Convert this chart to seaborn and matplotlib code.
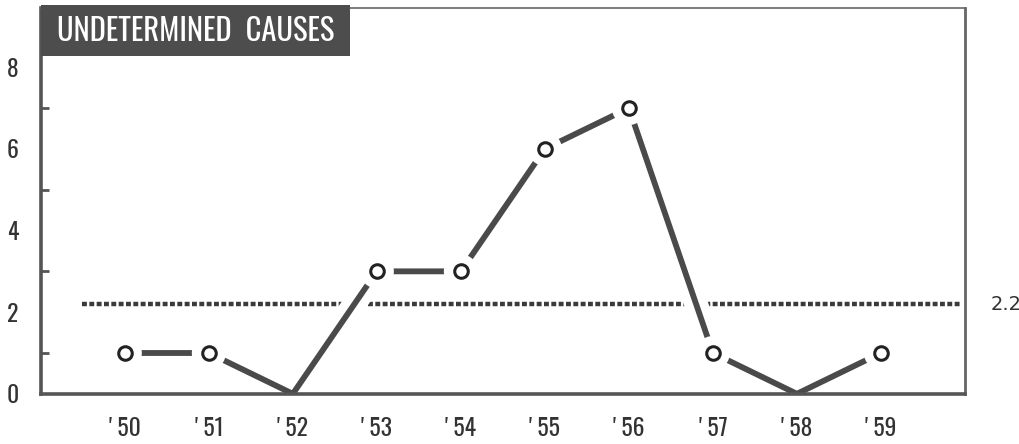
import matplotlib
matplotlib.use("Agg")
import matplotlib.pyplot as plt
import matplotlib.patheffects as pe
from matplotlib.patches import Rectangle
import seaborn as sns
import pandas as pd
import logging
logging.getLogger("matplotlib.font_manager").setLevel(logging.ERROR)

years = [1950, 1951, 1952, 1953, 1954, 1955, 1956, 1957, 1958, 1959]
year_labels = ["' 50", "' 51", "' 52", "' 53", "' 54", "' 55", "' 56", "' 57", "' 58", "' 59"]
counts = [1, 1, 0, 3, 3, 6, 7, 1, 0, 1]
mean_value = 2.2
mean_label = "2.2"
title = "UNDETERMINED  CAUSES"
y_ticks = [0, 2, 4, 6, 8]

sns.set_style("white")
narrow = ["Oswald", "Roboto Condensed", "Archivo Narrow", "PT Sans Narrow",
          "Liberation Sans Narrow", "DejaVu Sans"]
plt.rcParams["font.family"] = narrow

df = pd.DataFrame({"year": years, "count": counts})

fig = plt.figure(figsize=(10.2, 4.44), dpi=100)
ax = fig.add_axes([0.040, 0.113, 0.906, 0.869])

line_col = "#4a4a4a"

# mean dotted line
ax.axhline(mean_value, xmin=0.045, xmax=0.996, color="#3a3a3a", lw=3.2,
           linestyle=(0, (1.1, 0.55)), zorder=2, dash_capstyle="butt")

# data line with white halo that breaks the mean line
sns.lineplot(data=df, x="year", y="count", ax=ax, color=line_col, lw=4.2,
             zorder=3, estimator=None,
             path_effects=[pe.Stroke(linewidth=17, foreground="white"), pe.Normal()])

nz = df[df["count"] > 0]
ax.scatter(nz["year"], nz["count"], s=600, color="white", edgecolor="none", zorder=4)
ax.scatter(nz["year"], nz["count"], s=95, facecolor="white", edgecolor="#222222",
           linewidth=2.2, zorder=5)

ax.set_xlim(1949.0, 1960.0)
ax.set_ylim(0, 9.45)
ax.set_xticks(years)
ax.set_xticklabels(year_labels, fontweight="medium")
ax.set_yticks(y_ticks)
ax.set_yticklabels([str(v) for v in y_ticks], fontweight="medium")
ax.set_yticks([1, 3, 5, 7], minor=True)
ax.set_xlabel("")
ax.set_ylabel("")

ax.tick_params(axis="y", which="major", direction="in", length=15, width=2,
               color="#555555", pad=16, labelsize=17, labelcolor="#333333")
ax.tick_params(axis="y", which="minor", direction="in", length=6, width=2,
               color="#555555", left=True)
ax.tick_params(axis="x", which="major", direction="in", length=8, width=2,
               color="#555555", pad=17, labelsize=17, labelcolor="#333333")

for s in ["left", "bottom"]:
    ax.spines[s].set_linewidth(2.6)
    ax.spines[s].set_color("#555555")
ax.spines["right"].set_linewidth(2.0)
ax.spines["right"].set_color("#666666")
ax.spines["top"].set_linewidth(1.2)
ax.spines["top"].set_color("#666666")
for s in ax.spines.values():
    s.set_zorder(6)
ax.xaxis.set_zorder(6)
ax.yaxis.set_zorder(6)

# title banner
ax.add_patch(Rectangle((0.0, 0.875), 0.335, 0.132, transform=ax.transAxes,
                       facecolor="#4d4d4d", edgecolor="none", clip_on=False, zorder=7))
ax.text(0.168, 0.94, title, transform=ax.transAxes, ha="center", va="center",
        color="white", fontsize=22, fontweight="medium", zorder=8, family=narrow)

ax.text(1.028, mean_value, mean_label, transform=ax.get_yaxis_transform(),
        ha="left", va="center", fontsize=14, color="#333333", family=["DejaVu Sans"])

fig.savefig("out.png", dpi=100, facecolor="white")
